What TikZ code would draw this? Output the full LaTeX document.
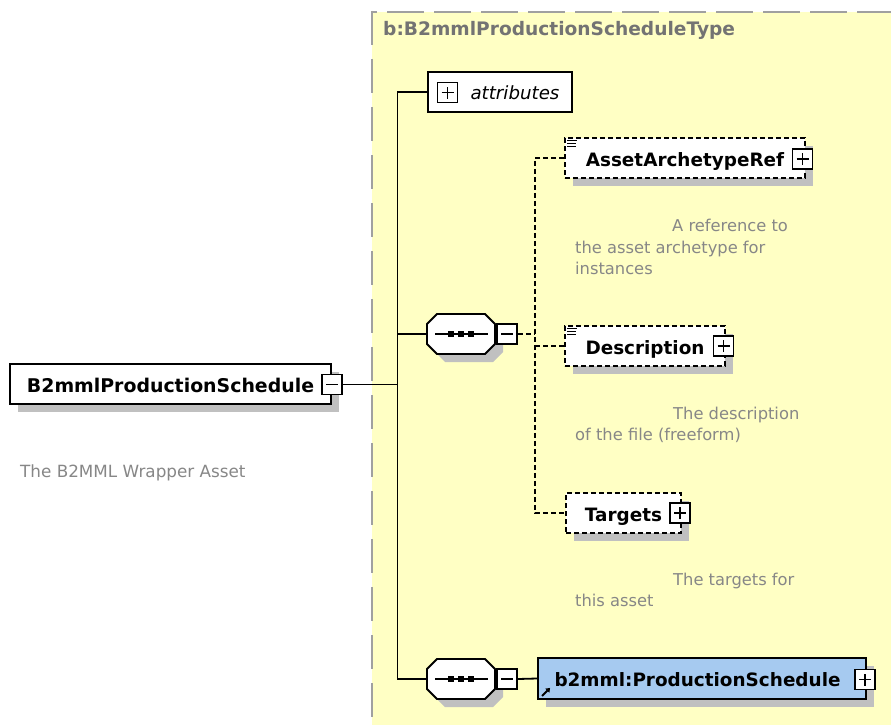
\documentclass[tikz,border=0pt]{standalone}
\usepackage{fontspec}
\setmainfont{DejaVu Sans}
\usetikzlibrary{shadows,arrows.meta}

\definecolor{bgyellow}{RGB}{255,255,196}
\definecolor{framegrey}{RGB}{160,160,160}
\definecolor{shadowgrey}{RGB}{192,192,192}
\definecolor{notegrey}{RGB}{135,135,135}
\definecolor{titlegrey}{RGB}{115,115,115}
\definecolor{refblue}{RGB}{166,202,240}

\tikzset{
  elembox/.style={draw=black, line width=1.8pt, fill=white, inner sep=0pt,
    minimum height=40pt, text height=17pt, text depth=1pt,
    font=\fontsize{18.4}{20}\selectfont\bfseries,
    drop shadow={shadow xshift=8pt, shadow yshift=-8pt, fill=shadowgrey, opacity=1}},
  optbox/.style={elembox, dash pattern=on 5pt off 3pt},
  pmbox/.style={draw=black, line width=1.8pt, fill=white, minimum size=20pt, inner sep=0pt},
  pmplus/.style={pmbox, path picture={
      \draw[line width=1.6pt]
        ([xshift=-6pt]path picture bounding box.center) -- ([xshift=6pt]path picture bounding box.center)
        ([yshift=-6pt]path picture bounding box.center) -- ([yshift=6pt]path picture bounding box.center);}},
  pmminus/.style={pmbox, path picture={
      \draw[line width=1.6pt]
        ([xshift=-6pt]path picture bounding box.center) -- ([xshift=6pt]path picture bounding box.center);}},
  seqnode/.style={minimum width=68pt, minimum height=40pt, inner sep=0pt},
  conn/.style={draw=black, line width=1.8pt},
  optconn/.style={conn, dash pattern=on 5pt off 3pt},
  note/.style={anchor=base west, inner sep=0pt, text=notegrey, font=\fontsize{16.3}{20}\selectfont},
  frameline/.style={draw=framegrey, line width=2pt}
}

% octagonal sequence compositor drawn round a named node
\newcommand\seqshape[1]{%
  \begin{scope}[shift={(#1.center)}]
    \fill[shadowgrey] (-26,-2) -- (-16,-12) -- (32,-12) -- (42,-2) -- (42,18) -- (32,28) -- (-16,28) -- (-26,18) -- cycle;
    \filldraw[fill=white, draw=black, line width=1.8pt]
      (-34,-10) -- (-24,-20) -- (24,-20) -- (34,-10) -- (34,10) -- (24,20) -- (-24,20) -- (-34,10) -- cycle;
    \draw[line width=1.6pt] (-26,0) -- (27,0);
    \foreach \d in {-10,0,10} \fill (\d-2.7,-2.7) rectangle (\d+2.7,2.7);
  \end{scope}}

% small "documented" mark in a box corner
\newcommand\docmark[1]{%
  \begin{scope}[shift={(#1.north west)}]
    \draw[line width=1pt] (3,3) -- (13,3) (3,6) -- (12,6) (3,9) -- (12,9);
  \end{scope}}

\begin{document}
\begin{tikzpicture}[x=1pt,y=-1pt]
\useasboundingbox (0,0) rectangle (891,725);
\fill[white] (0,0) rectangle (891,725);

% complex type panel
\fill[bgyellow] (372,12) rectangle (891,725);
\draw[frameline, dash pattern=on 34pt off 14pt] (372,11) -- (372,725);
\draw[frameline] (372,12) -- (377,12);
\draw[frameline, dash pattern=on 37pt off 10pt] (387,12) -- (891,12);
\node[anchor=base west, inner sep=0pt, text=titlegrey, font=\fontsize{18.6}{20}\selectfont\bfseries]
  (typename) at (383,36) {b:B2mmlProductionScheduleType};

% root element
\node[elembox, minimum width=321pt, font=\fontsize{18.9}{20}\selectfont\bfseries]
  (root) at (170.5,384) {B2mmlProductionSchedule};
\node[pmminus] (rootpm) at (332,384.5) {};
\node[note, font=\fontsize{16.8}{20}\selectfont] (rootdoc) at (20,477) {The B2MML Wrapper Asset};

% attributes
\node[draw=black, line width=1.8pt, fill=white, inner sep=0pt, minimum width=144pt, minimum height=40pt,
  text height=17pt, text depth=2pt, font=\fontsize{18.2}{20}\selectfont\itshape]
  (attr) at (500,92) {\hspace*{30pt}attributes};
\node[pmplus] (attrpm) at (447.5,92.5) {};

% sequence compositors
\node[seqnode] (seqa) at (461,334) {};
\seqshape{seqa}
\node[pmminus] (seqapm) at (507,334) {};
\node[seqnode] (seqb) at (461,679) {};
\seqshape{seqb}
\node[pmminus] (seqbpm) at (507,679) {};

% optional child elements
\node[optbox, minimum width=240pt] (aar) at (685,158) {AssetArchetypeRef};
\docmark{aar}
\node[pmplus] (aarpm) at (802.5,159) {};
\node[note] (aardoca) at (672,231.5) {A reference to};
\node[note] (aardocb) at (575,253) {the asset archetype for};
\node[note] (aardocc) at (575,274.5) {instances};

\node[optbox, minimum width=160pt] (desc) at (645,346) {Description};
\docmark{desc}
\node[pmplus] (descpm) at (723.5,346) {};
\node[note] (descdoca) at (673,419) {The description};
\node[note] (descdocb) at (575,440.5) {of the file (freeform)};

\node[optbox, minimum width=115pt] (targets) at (623.5,513) {Targets};
\node[pmplus] (targetspm) at (680,513) {};
\node[note] (targetsdoca) at (673,585) {The targets for};
\node[note] (targetsdocb) at (575,606.5) {this asset};

% referenced element
\node[elembox, fill=refblue, minimum width=328pt, minimum height=41pt]
  (prod) at (702,678.5) {b2mml:ProductionSchedule\hspace*{9pt}};
\node[pmplus] (prodpm) at (865,679.5) {};
\draw[line width=1.8pt, -{Triangle[length=4pt,width=5.5pt]}]
  ([xshift=5pt,yshift=4pt]prod.south west) -- ([xshift=13pt,yshift=12pt]prod.south west);

% connectors
\coordinate (spinetop) at (397.5,92);
\coordinate (spinebot) at (397.5,679);
\coordinate (branch) at (535,0);
\draw[conn] (rootpm.east) -- (rootpm.east -| spinetop);
\draw[conn] ([yshift=0.9pt]spinetop) -- ([yshift=-0.9pt]spinebot);
\draw[conn] (spinetop) -- (attr.west);
\draw[conn] (seqa.west -| spinetop) -- (seqa.west);
\draw[conn] (spinebot) -- (seqb.west);
\draw[conn] (seqbpm.east) -- (prod.west);
\draw[optconn] (seqapm.east) -- (seqapm.east -| branch);
\draw[optconn] (aar.west) -- (aar.west -| branch) -- (targets.west -| branch) -- (targets.west);
\draw[optconn] (desc.west -| branch) -- (desc.west);
\end{tikzpicture}
\end{document}
